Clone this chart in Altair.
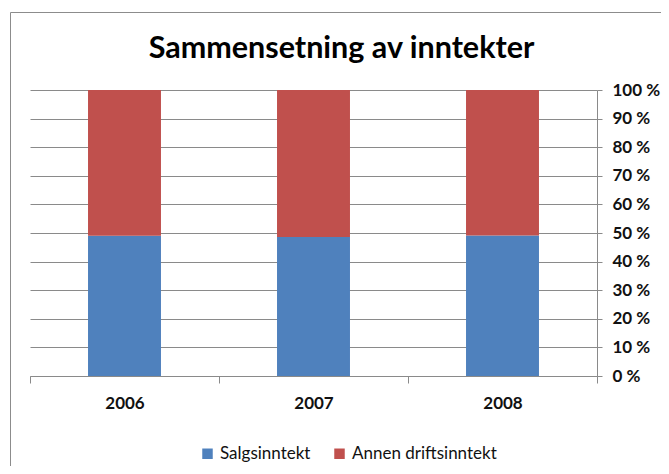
import altair as alt
import pandas as pd

years = ["2006", "2007", "2008"]
series = ["Salgsinntekt", "Annen driftsinntekt"]
sales = [49.0, 48.6, 49.1]
other = [51.0, 51.4, 50.9]
colors = ["#4F81BD", "#C0504D"]
y_ticks = [0, 0.1, 0.2, 0.3, 0.4, 0.5, 0.6, 0.7, 0.8, 0.9, 1.0]

rows = []
for i, yr in enumerate(years):
    rows.append({"year": yr, "series": series[0], "value": sales[i], "ord": 0})
    rows.append({"year": yr, "series": series[1], "value": other[i], "ord": 1})
df = pd.DataFrame(rows)

FONT = "Lato"
GRID = "#8a8a8a"
W, H = 567, 286

bars = alt.Chart(df).mark_bar(width={"band": 0.386}).encode(
    x=alt.X(
        "year:N", sort=years, title=None,
        scale=alt.Scale(paddingInner=0, paddingOuter=0),
        axis=alt.Axis(labelAngle=0, tickBand="extent", tickSize=7, tickColor=GRID,
                      domainColor=GRID, labelFontSize=17, labelFontWeight="bold",
                      labelPadding=12, labelFont=FONT, labelColor="#111"),
    ),
    y=alt.Y(
        "value:Q", stack="normalize", title=None,
        scale=alt.Scale(domain=[0, 1]),
        axis=alt.Axis(orient="right", values=y_ticks,
                      labelExpr="replace(format(datum.value, '.0%'), '%', ' %')",
                      grid=True, gridColor=GRID, tickColor=GRID, domainColor=GRID,
                      tickSize=5, labelPadding=10, labelFontSize=17,
                      labelFontWeight="bold", labelAlign="left", labelFont=FONT,
                      labelColor="#111"),
    ),
    color=alt.Color(
        "series:N", scale=alt.Scale(domain=series, range=colors),
        legend=alt.Legend(orient="none", legendX=169, legendY=355, direction="horizontal",
                          title=None, symbolType="square", symbolSize=110,
                          symbolStrokeWidth=0, labelFontSize=17, labelFont=FONT,
                          labelColor="#111", columnPadding=20, labelOffset=4),
    ),
    order=alt.Order("ord:Q"),
)

border = alt.Chart(alt.Data(values=[{"a": 1}])).mark_rect(
    fillOpacity=0, stroke="#8c8c8c", strokeWidth=1
).encode(
    x=alt.value(-19.5), x2=alt.value(W + 120),
    y=alt.value(-77.5), y2=alt.value(H + 200),
)

chart = alt.layer(border, bars).properties(
    width=W, height=H,
    padding={"left": 22, "top": 82, "right": 64, "bottom": 90},
    autosize=alt.AutoSizeParams(type="none"),
    title=alt.Title("Sammensetning av inntekter", font=FONT, fontSize=30.5,
                    fontWeight="bold", anchor="middle", dx=28, offset=-76,
                    baseline="alphabetic", color="#000"),
).configure_view(stroke=None)

chart.save("out.html", embed_options={"renderer": "svg", "actions": False})
